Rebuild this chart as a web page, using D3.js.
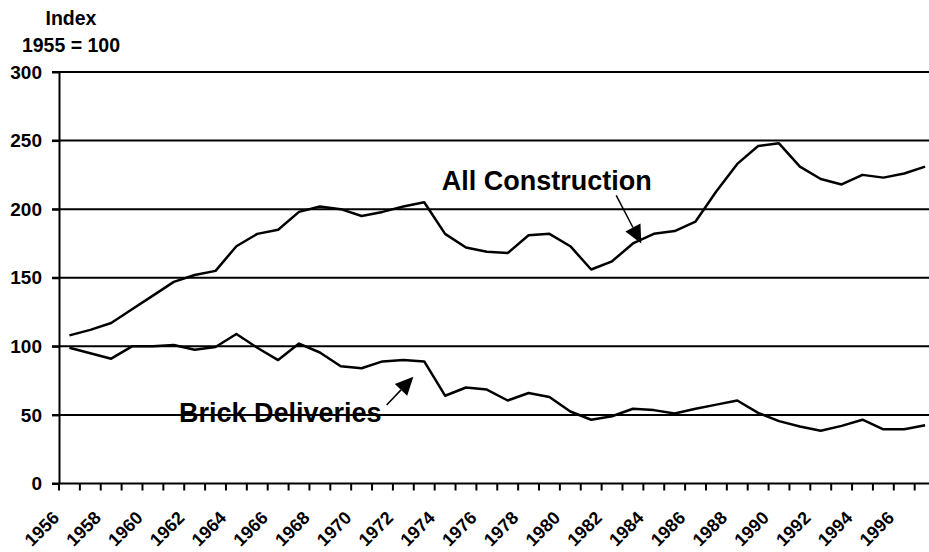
<!DOCTYPE html>
<html>
<head>
<meta charset="utf-8">
<script src="https://cdn.jsdelivr.net/npm/d3@7"></script>
<style>
  html, body { margin: 0; padding: 0; background: #fff; }
  svg { display: block; }
  text { font-family: "Liberation Sans", Arial, sans-serif; font-weight: bold; fill: #000; }
</style>
</head>
<body>
<svg id="chart" width="929" height="552"></svg>
<script>
const years = d3.range(1956, 1998);
const yearLabels = years.filter(y => (y - 1956) % 2 === 0).map(String);
const construction = [108, 112, 117, 127, 137, 147, 152, 155, 173, 182, 185, 198, 202, 200,
  195, 198, 202, 205, 182, 172, 169, 168, 181, 182, 173, 156, 162, 175, 182, 184, 191,
  213, 233, 246, 248, 231, 222, 218, 225, 223, 226, 231];
const brick = [99, 95, 91, 100, 100, 101, 97.5, 99.5, 109, 99, 90, 102, 95.5, 85.5, 84,
  89, 90, 89, 64, 70, 68.5, 60.5, 66, 63, 52.5, 46.5, 49, 54.5, 53.5, 51, 54.5, 57.5,
  60.5, 51.5, 45.5, 41.5, 38.5, 42, 46.5, 39.5, 39.5, 42.5];
const yTicks = [0, 50, 100, 150, 200, 250, 300];
const titleLines = ["Index", "1955 = 100"];
const annotations = [
  { text: "All Construction", tx: 1973.84, ty: 213.7, from: [1982.2, 210], to: [1983.4, 175] },
  { text: "Brick Deliveries", tx: 1961.25, ty: 45, from: [1971.2, 57.2], to: [1972.48, 77.8] }
];

const svg = d3.select("#chart");
const mLeft = 59, mTop = 72, mBottom = 483.5, bandW = 20.87;
const mRight = mLeft + bandW * years.length;

const x = d3.scaleBand().domain(years).range([mLeft, mRight]).padding(0);
const cx = d => x(d) + x.bandwidth() / 2;
const xLin = d3.scaleLinear().domain([1956, 1997]).range([cx(1956), cx(1997)]);
const y = d3.scaleLinear().domain([0, 300]).range([mBottom, mTop]);

// gridlines
svg.append("g").selectAll("line").data(yTicks.filter(t => t > 0)).join("line")
  .attr("x1", mLeft - 7).attr("x2", mRight)
  .attr("y1", d => y(d)).attr("y2", d => y(d))
  .attr("stroke", "#000").attr("stroke-width", 2);

// y axis
const yAxis = svg.append("g").attr("transform", `translate(${mLeft},0)`)
  .call(d3.axisLeft(y).tickValues(yTicks).tickSize(7).tickPadding(10).tickSizeOuter(0));
yAxis.select(".domain").attr("stroke-width", 2);
yAxis.selectAll(".tick line").attr("stroke-width", 2);
yAxis.selectAll(".tick text").attr("font-size", 19)
  .style("font-family", '"Liberation Sans", Arial, sans-serif').style("font-weight", "bold");

// x axis: ticks at category boundaries
const xAxisG = svg.append("g");
xAxisG.append("line").attr("x1", mLeft - 7).attr("x2", mRight)
  .attr("y1", mBottom).attr("y2", mBottom).attr("stroke", "#000").attr("stroke-width", 2);
xAxisG.selectAll("line.tk").data(years).join("line").attr("class", "tk")
  .attr("x1", d => x(d)).attr("x2", d => x(d))
  .attr("y1", mBottom).attr("y2", mBottom + 7)
  .attr("stroke", "#000").attr("stroke-width", 2);
xAxisG.selectAll("text").data(yearLabels).join("text")
  .attr("transform", d => `translate(${cx(+d) - 9},${mBottom + 35.5}) rotate(-45)`)
  .attr("text-anchor", "end")
  .attr("font-size", 18)
  .text(d => d);

// lines
const line = d3.line().x((d, i) => cx(years[i])).y(d => y(d));
[construction, brick].forEach(series => {
  svg.append("path").datum(series).attr("d", line)
    .attr("fill", "none").attr("stroke", "#000").attr("stroke-width", 2.5)
    .attr("stroke-linejoin", "round");
});

// title
svg.selectAll("text.title").data(titleLines).join("text").attr("class", "title")
  .attr("x", 71).attr("y", (d, i) => 25 + i * 26.7)
  .attr("text-anchor", "middle").attr("font-size", 19.5).text(d => d);

// annotations
annotations.forEach(a => {
  svg.append("text").attr("x", xLin(a.tx)).attr("y", y(a.ty))
    .attr("font-size", 27).text(a.text);
  const x1 = xLin(a.from[0]), y1 = y(a.from[1]);
  const x2 = xLin(a.to[0]), y2 = y(a.to[1]);
  const dx = x2 - x1, dy = y2 - y1, len = Math.hypot(dx, dy);
  const ux = dx / len, uy = dy / len;
  const headL = 18, headW = 8.5;
  const bx = x2 - ux * headL, by = y2 - uy * headL;
  svg.append("line").attr("x1", x1).attr("y1", y1).attr("x2", bx).attr("y2", by)
    .attr("stroke", "#000").attr("stroke-width", 1.5);
  svg.append("polygon")
    .attr("points", [[x2, y2], [bx - uy * headW, by + ux * headW], [bx + uy * headW, by - ux * headW]]
      .map(p => p.join(",")).join(" "))
    .attr("fill", "#000");
});
</script>
</body>
</html>
